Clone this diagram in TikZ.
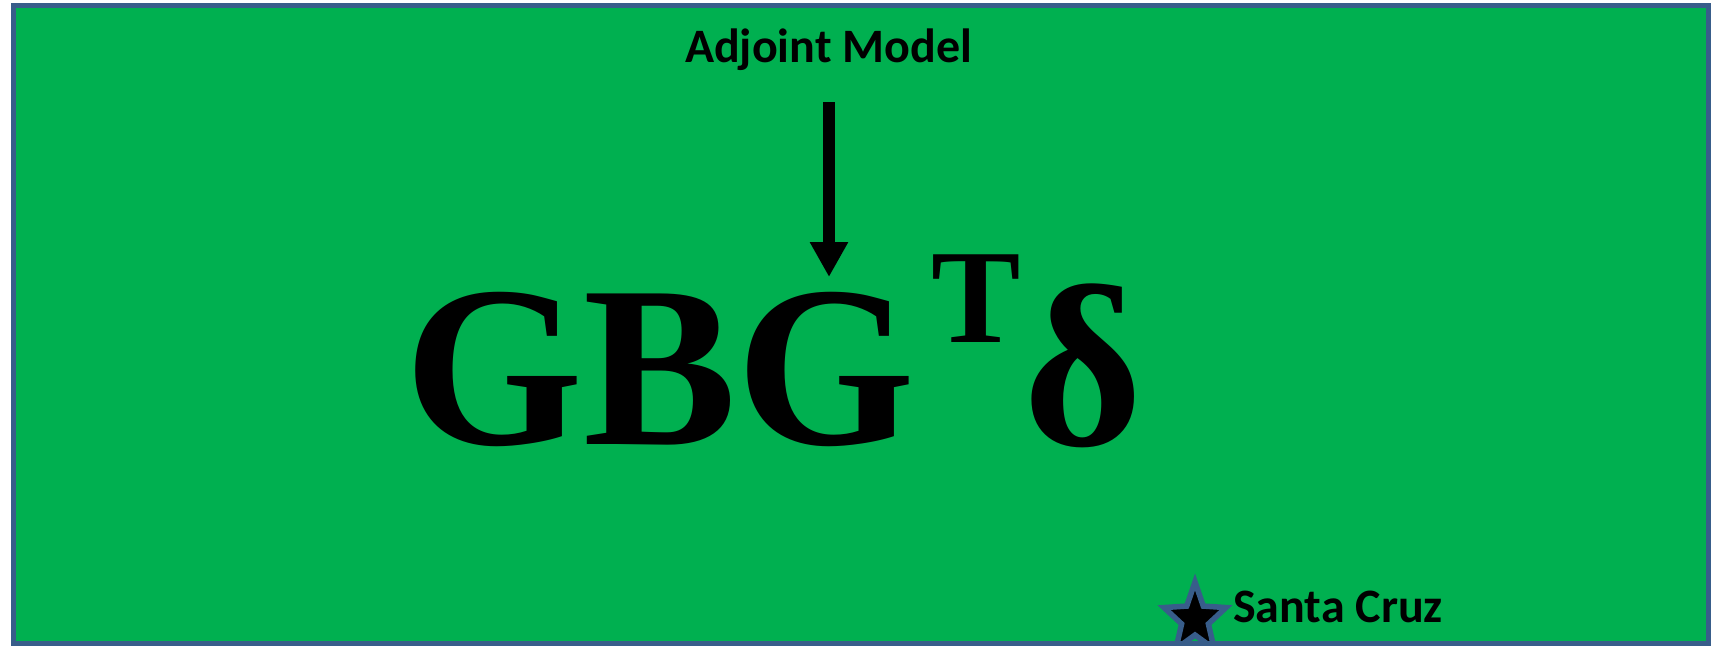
\documentclass[tikz,border=0pt]{standalone}
\usepackage{fontspec}
\setmainfont{Liberation Serif}
\newfontfamily\labelfont{Carlito}
\usetikzlibrary{arrows.meta}
\definecolor{bggreen}{HTML}{00B050}
\definecolor{edgeblue}{HTML}{385D8A}
\tikzset{
  lbl/.style={inner sep=0pt, font=\labelfont\bfseries\fontsize{48}{48}\selectfont, text=black},
  bigtxt/.style={inner sep=0pt, font=\bfseries\fontsize{230}{230}\selectfont, text=black},
  suptxt/.style={inner sep=0pt, font=\bfseries\fontsize{134}{134}\selectfont, text=black},
  marker/.style={fill=black, draw=edgeblue, line width=5.5pt, line join=miter},
  pointer/.style={line width=12pt, -{Triangle[width=36pt,length=35pt]}, black}
}
\begin{document}
\begin{tikzpicture}[x=1pt,y=-1pt]
\useasboundingbox (0,0) rectangle (1712,645);
\fill[white] (0,0) rectangle (1712,645);
\fill[bggreen] (13.5,5.5) rectangle (1708.5,643);
\node[lbl, anchor=base] (adj) at (828.5,62) {Adjoint Model};
\node[bigtxt, anchor=base west] (gbg) at (404,444) {GBG};
\node[suptxt, anchor=base west] (sup) at (931,342) {T};
\node[bigtxt, anchor=base west] (delta) at (1023,444) {δ};
\coordinate (tail) at (829,102);
\coordinate (tip) at (829,277);
\draw[pointer] (tail) -- (tip);
\coordinate (sc) at (1195,619);
\draw[marker, shift={(sc)}, xscale=0.88]
  (270:37) -- (306:16) -- (342:37) -- (18:16) -- (54:37) -- (90:16)
  -- (126:37) -- (162:16) -- (198:37) -- (234:16) -- cycle;
\node[lbl, anchor=base] (santa) at (1338,622) {Santa Cruz};
\draw[edgeblue, line width=5pt] (13.5,5.5) rectangle (1708.5,643);
\end{tikzpicture}
\end{document}
